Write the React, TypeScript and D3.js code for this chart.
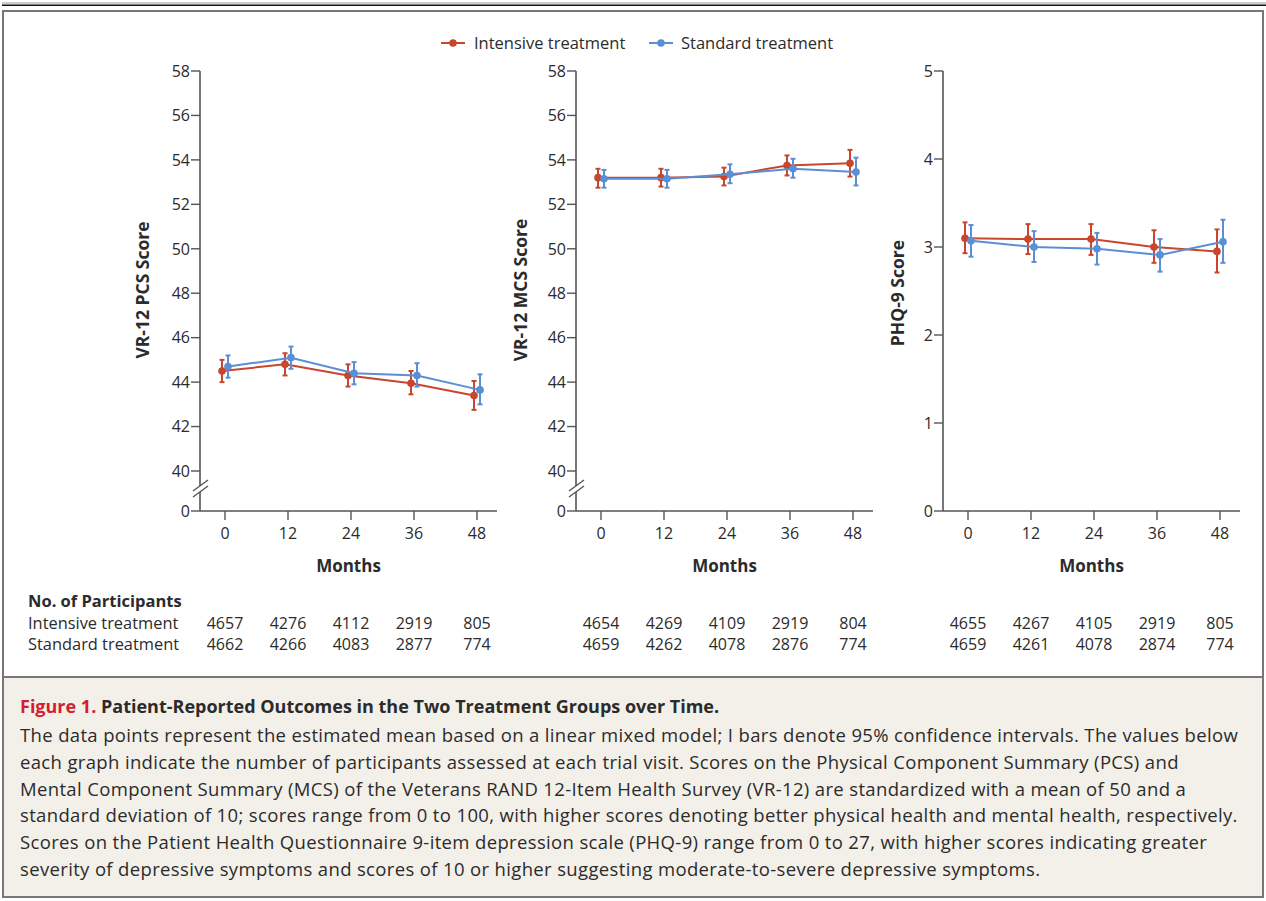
import React from 'react';
import * as d3 from 'd3';

const months = [0, 12, 24, 36, 48];

// mean, lower CI, upper CI per visit
const pcsIntensive = [44.5, 44.8, 44.3, 43.95, 43.4];
const pcsIntensiveLo = [44.0, 44.3, 43.8, 43.45, 42.75];
const pcsIntensiveHi = [45.0, 45.3, 44.8, 44.5, 44.05];
const pcsStandard = [44.7, 45.1, 44.4, 44.3, 43.65];
const pcsStandardLo = [44.2, 44.6, 43.9, 43.8, 43.0];
const pcsStandardHi = [45.2, 45.6, 44.9, 44.85, 44.35];

const mcsIntensive = [53.2, 53.2, 53.25, 53.75, 53.85];
const mcsIntensiveLo = [52.75, 52.8, 52.85, 53.3, 53.25];
const mcsIntensiveHi = [53.6, 53.6, 53.65, 54.2, 54.45];
const mcsStandard = [53.15, 53.15, 53.35, 53.6, 53.45];
const mcsStandardLo = [52.75, 52.75, 52.95, 53.2, 52.85];
const mcsStandardHi = [53.55, 53.55, 53.8, 54.05, 54.1];

const phqIntensive = [3.1, 3.09, 3.09, 3.0, 2.95];
const phqIntensiveLo = [2.93, 2.92, 2.91, 2.82, 2.71];
const phqIntensiveHi = [3.28, 3.26, 3.26, 3.19, 3.2];
const phqStandard = [3.07, 3.0, 2.98, 2.91, 3.06];
const phqStandardLo = [2.89, 2.83, 2.8, 2.72, 2.82];
const phqStandardHi = [3.25, 3.18, 3.16, 3.09, 3.31];

const nIntensive = [
  [4657, 4276, 4112, 2919, 805],
  [4654, 4269, 4109, 2919, 804],
  [4655, 4267, 4105, 2919, 805]
];
const nStandard = [
  [4662, 4266, 4083, 2877, 774],
  [4659, 4262, 4078, 2876, 774],
  [4659, 4261, 4078, 2874, 774]
];

const yTicksScore = [40, 42, 44, 46, 48, 50, 52, 54, 56, 58];
const yTicksPhq = [0, 1, 2, 3, 4, 5];

const captionLines = [
  'The data points represent the estimated mean based on a linear mixed model; I bars denote 95% confidence intervals. The values below',
  'each graph indicate the number of participants assessed at each trial visit. Scores on the Physical Component Summary (PCS) and',
  'Mental Component Summary (MCS) of the Veterans RAND 12-Item Health Survey (VR-12) are standardized with a mean of 50 and a',
  'standard deviation of 10; scores range from 0 to 100, with higher scores denoting better physical health and mental health, respectively.',
  'Scores on the Patient Health Questionnaire 9-item depression scale (PHQ-9) range from 0 to 27, with higher scores indicating greater',
  'severity of depressive symptoms and scores of 10 or higher suggesting moderate-to-severe depressive symptoms.'
];

const RED = '#c8462e';
const BLUE = '#5b8fd5';
const AXIS = '#555';
const TEXT = '#2b2b2b';
const FONT = '"Open Sans", Lato, sans-serif';

const panels = [
  {
    axisX: 200, title: 'VR-12 PCS Score', titleX: 143, broken: true,
    yDomain: [40, 58], yTicks: yTicksScore,
    series: [
      { color: RED, mean: pcsIntensive, lo: pcsIntensiveLo, hi: pcsIntensiveHi, dx: -3 },
      { color: BLUE, mean: pcsStandard, lo: pcsStandardLo, hi: pcsStandardHi, dx: 3 }
    ]
  },
  {
    axisX: 576, title: 'VR-12 MCS Score', titleX: 521, broken: true,
    yDomain: [40, 58], yTicks: yTicksScore,
    series: [
      { color: RED, mean: mcsIntensive, lo: mcsIntensiveLo, hi: mcsIntensiveHi, dx: -3 },
      { color: BLUE, mean: mcsStandard, lo: mcsStandardLo, hi: mcsStandardHi, dx: 3 }
    ]
  },
  {
    axisX: 943, title: 'PHQ-9 Score', titleX: 898, broken: false,
    yDomain: [0, 5], yTicks: yTicksPhq,
    series: [
      { color: RED, mean: phqIntensive, lo: phqIntensiveLo, hi: phqIntensiveHi, dx: -3 },
      { color: BLUE, mean: phqStandard, lo: phqStandardLo, hi: phqStandardHi, dx: 3 }
    ]
  }
];

const yTop = 71;
const yZero = 511;
const yBreakLow = 471;

const Panel = ({ p, idx }) => {
  const x = d3.scaleLinear().domain([0, 48]).range([p.axisX + 25, p.axisX + 277]);
  const y = d3.scaleLinear()
    .domain(p.yDomain)
    .range([p.broken ? yBreakLow : yZero, yTop]);
  const ticks = p.broken ? [...p.yTicks.map(t => ({ v: t, y: y(t) })), { v: 0, y: yZero }]
    : p.yTicks.map(t => ({ v: t, y: y(t) }));
  const xEnd = p.axisX + 297;

  return (
    <g>
      {/* axes */}
      <line x1={p.axisX} x2={p.axisX} y1={yTop} y2={yZero} stroke={AXIS} strokeWidth={1.6} />
      <line x1={p.axisX} x2={xEnd} y1={yZero} y2={yZero} stroke={AXIS} strokeWidth={1.6} />
      {ticks.map((t, i) => (
        <g key={i}>
          <line x1={p.axisX - 9} x2={p.axisX} y1={t.y} y2={t.y} stroke={AXIS} strokeWidth={1.4} />
          <text x={p.axisX - 10} y={t.y} dy="0.36em" textAnchor="end" fontSize={16} fill={TEXT}>{t.v}</text>
        </g>
      ))}
      {p.broken && (
        <g stroke={AXIS} strokeWidth={1.4}>
          <rect x={p.axisX - 2} y={486} width={4} height={6} fill="#fff" stroke="none" />
          <line x1={p.axisX - 7} y1={491} x2={p.axisX + 8} y2={480} />
          <line x1={p.axisX - 7} y1={497} x2={p.axisX + 8} y2={486} />
        </g>
      )}
      {months.map(m => (
        <g key={m}>
          <line x1={x(m)} x2={x(m)} y1={yZero} y2={yZero + 9} stroke={AXIS} strokeWidth={1.4} />
          <text x={x(m)} y={539} textAnchor="middle" fontSize={16} fill={TEXT}>{m}</text>
        </g>
      ))}
      <text x={(p.axisX + xEnd) / 2} y={572} textAnchor="middle" fontSize={17} fontWeight="bold" fill={TEXT}>Months</text>
      <text transform={`translate(${p.titleX},${p.broken ? 290 : 293}) rotate(-90)`} textAnchor="middle" dy="0.35em"
        fontSize={17.5} fontWeight="bold" fill={TEXT}>{p.title}</text>

      {/* series */}
      {p.series.map((s, si) => {
        const line = d3.line<number>()
          .x((d, i) => x(months[i]) + s.dx)
          .y(d => y(d));
        return (
          <g key={si}>
            <path d={line(s.mean) || ''} fill="none" stroke={s.color} strokeWidth={2} />
            {s.mean.map((v, i) => {
              const cx = x(months[i]) + s.dx;
              return (
                <g key={i} stroke={s.color} strokeWidth={2}>
                  <line x1={cx} x2={cx} y1={y(s.lo[i])} y2={y(s.hi[i])} />
                  <line x1={cx - 2.5} x2={cx + 2.5} y1={y(s.lo[i])} y2={y(s.lo[i])} />
                  <line x1={cx - 2.5} x2={cx + 2.5} y1={y(s.hi[i])} y2={y(s.hi[i])} />
                  <circle cx={cx} cy={y(v)} r={3.8} fill={s.color} stroke="none" />
                </g>
              );
            })}
          </g>
        );
      })}

      {/* participant counts */}
      {months.map((m, i) => (
        <g key={m} fontSize={16} fill={TEXT} textAnchor="middle">
          <text x={x(m)} y={629}>{nIntensive[idx][i]}</text>
          <text x={x(m)} y={650}>{nStandard[idx][i]}</text>
        </g>
      ))}
    </g>
  );
};

export default function App() {
  return (
    <svg width={1266} height={901} style={{ position: 'absolute', left: 0, top: 0 }} fontFamily={FONT}>
      <rect width={1266} height={901} fill="#fff" />
      {/* top rules */}
      <line x1={2} x2={1266} y1={3} y2={3} stroke="#999" strokeWidth={1} />
      <line x1={2} x2={1266} y1={5.2} y2={5.2} stroke="#111" strokeWidth={1.6} />
      {/* caption background */}
      <rect x={3} y={677} width={1260} height={220} fill="#f3f0ea" />
      {/* frame */}
      <rect x={3} y={11} width={1260} height={886} fill="none" stroke="#777" strokeWidth={2} />
      <line x1={3} x2={1263} y1={677} y2={677} stroke="#777" strokeWidth={2} />

      {/* legend */}
      <g>
        <line x1={441} x2={465} y1={43} y2={43} stroke={RED} strokeWidth={2} />
        <circle cx={453} cy={43} r={3.8} fill={RED} />
        <text x={474} y={43} dy="0.35em" fontSize={16.5} fill={TEXT}>Intensive treatment</text>
        <line x1={649} x2={673} y1={43} y2={43} stroke={BLUE} strokeWidth={2} />
        <circle cx={661} cy={43} r={3.8} fill={BLUE} />
        <text x={681} y={43} dy="0.35em" fontSize={16.5} fill={TEXT}>Standard treatment</text>
      </g>

      {panels.map((p, i) => <Panel key={i} p={p} idx={i} />)}

      {/* participants labels */}
      <text x={28} y={607} fontSize={16.5} fontWeight="bold" fill={TEXT}>No. of Participants</text>
      <text x={28} y={629} fontSize={16.4} fill={TEXT}>Intensive treatment</text>
      <text x={28} y={650} fontSize={16.4} fill={TEXT}>Standard treatment</text>

      {/* caption */}
      <text x={20} y={713} fontSize={18} fontWeight="bold" fill={TEXT}>
        <tspan fill="#d11f2f">Figure 1.</tspan> Patient-Reported Outcomes in the Two Treatment Groups over Time.
      </text>
      {captionLines.map((l, i) => (
        <text key={i} x={20} y={742 + i * 26.8} fontSize={18.5} letterSpacing={0.35} fill={TEXT}>{l}</text>
      ))}
    </svg>
  );
}
